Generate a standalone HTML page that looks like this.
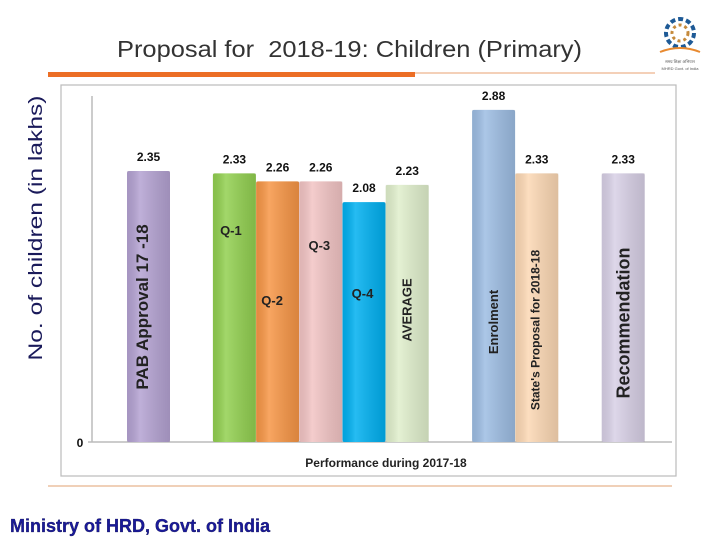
<!DOCTYPE html>
<html><head><meta charset="utf-8"><style>
body{margin:0;width:720px;height:540px;background:#fff;overflow:hidden;position:relative;font-family:"Liberation Sans",sans-serif}
</style></head><body>
<svg id="chart" width="720" height="540" xmlns="http://www.w3.org/2000/svg" style="position:absolute;left:0;top:0">
<defs>
<linearGradient id="sh" x1="0" x2="1" y1="0" y2="0">
<stop offset="0" stop-color="#000" stop-opacity="0.08"/><stop offset="0.3" stop-color="#fff" stop-opacity="0.15"/><stop offset="1" stop-color="#000" stop-opacity="0.12"/>
</linearGradient>
</defs>
<text x="117" y="57" font-size="23" fill="#333" textLength="465" lengthAdjust="spacingAndGlyphs" xml:space="preserve">Proposal for  2018-19: Children (Primary)</text>
<rect x="48" y="72" width="367" height="5" fill="#ec6e25"/>
<line x1="415" y1="73" x2="655" y2="73" stroke="#e8a070" stroke-width="1"/>
<g>
<circle cx="680" cy="33" r="14" fill="none" stroke="#1e5a96" stroke-width="4" stroke-dasharray="5 3"/>
<circle cx="680" cy="33" r="8" fill="none" stroke="#c58a3c" stroke-width="3" stroke-dasharray="3 3"/>
<path d="M660 52 Q680 44 700 52" stroke="#e88a30" stroke-width="2" fill="none"/>
<text x="680" y="63" font-size="4" text-anchor="middle" fill="#555">समग्र शिक्षा अभियान</text>
<text x="680" y="70" font-size="4" text-anchor="middle" fill="#555">MHRD Govt. of India</text>
</g>
<text transform="translate(42,228) rotate(-90)" text-anchor="middle" font-size="19" fill="#1a1a5a" textLength="265" lengthAdjust="spacingAndGlyphs">No. of children (in lakhs)</text>
<rect x="61" y="85" width="615" height="391" fill="#fff" stroke="#bbb" stroke-width="1.2"/>
<line x1="92" y1="96" x2="92" y2="442" stroke="#bbb" stroke-width="1.5"/>
<line x1="88" y1="442" x2="672" y2="442" stroke="#bbb" stroke-width="1.5"/>
<text x="80" y="447" text-anchor="middle" font-size="12" font-weight="bold" fill="#111">0</text>
<text x="386" y="467" text-anchor="middle" font-size="12" font-weight="bold" fill="#222">Performance during 2017-18</text>
<g id="bars"></g>
<line x1="48" y1="486" x2="672" y2="486" stroke="#e0a070" stroke-width="1"/>
<text x="10" y="532" font-size="18" font-weight="bold" fill="#1a1a9a" stroke="#0a0a40" stroke-width="0.3" textLength="260" lengthAdjust="spacingAndGlyphs">Ministry of HRD, Govt. of India</text>
</svg>
<script>
const categories=["PAB Approval 17 -18","Q-1","Q-2","Q-3","Q-4","AVERAGE","Enrolment","State's Proposal for 2018-18","Recommendation"];
const values=[2.35,2.33,2.26,2.26,2.08,2.23,2.88,2.33,2.33];
const valueLabels=["2.35","2.33","2.26","2.26","2.08","2.23","2.88","2.33","2.33"];
const colors=["#b4a2d2","#92d050","#f79646","#f2c4c4","#00b0f0","#e0efcc","#9dbde3","#fcd8b4","#d8d0e6"];
const slots=[0,2,3,4,5,6,8,9,11];
const x0=127,slotW=43.2,barW=43,y0=442,pxPerUnit=115.3;
const xScale=i=>x0+slots[i]*slotW-(slots[i]>=2?0.5:0);
const yScale=v=>y0-v*pxPerUnit;
const g=document.getElementById('bars');const NS="http://www.w3.org/2000/svg";
const inner=[
 {dx:21,txt:"PAB Approval 17 -18",rot:1,yMid:307,size:17},
 {dx:18,txt:"Q-1",yAbs:235,size:13},
 {dx:16,txt:"Q-2",yAbs:305,size:13},
 {dx:20,txt:"Q-3",yAbs:250,size:13},
 {dx:20,txt:"Q-4",yAbs:298,size:13},
 {dx:26,txt:"AVERAGE",rot:1,yMid:310,size:13},
 {dx:26,txt:"Enrolment",rot:1,yMid:322,size:13},
 {dx:24,txt:"State's Proposal for 2018-18",rot:1,yMid:330,size:12},
 {dx:28,txt:"Recommendation",rot:1,yMid:323,size:18}
];
const innerNames=["pab","q1","q2","q3","q4","average","enrolment","state-proposal","recommendation"];
values.forEach((v,i)=>{
 const x=xScale(i),y=yScale(v);
 const r=document.createElementNS(NS,'rect');
 r.setAttribute('x',x);r.setAttribute('y',y);r.setAttribute('width',barW);r.setAttribute('height',y0-y);
 r.setAttribute('fill',colors[i]);r.setAttribute('rx',2);
 
 
 g.appendChild(r);
 const s=document.createElementNS(NS,'rect');
 s.setAttribute('x',x);s.setAttribute('y',y);s.setAttribute('width',barW);s.setAttribute('height',y0-y);s.setAttribute('fill','url(#sh)');
 
 
 g.appendChild(s);
 const t=document.createElementNS(NS,'text');
 t.setAttribute('x',x+barW/2);t.setAttribute('y',y-10);t.setAttribute('text-anchor','middle');
 t.setAttribute('font-size','12');t.setAttribute('font-weight','bold');t.setAttribute('fill','#111');
 t.textContent=valueLabels[i];
 
 
 g.appendChild(t);
 const c=inner[i];const lt=document.createElementNS(NS,'text');
 lt.setAttribute('font-size',c.size);lt.setAttribute('font-weight','bold');lt.setAttribute('fill','#222');
 if(c.rot){const cx=x+c.dx,cy=c.yMid;lt.setAttribute('text-anchor','middle');lt.setAttribute('transform','translate('+cx+','+cy+') rotate(-90)');}
 else{lt.setAttribute('x',x+c.dx);lt.setAttribute('y',c.yAbs);lt.setAttribute('text-anchor','middle');}
 lt.textContent=categories[i];
 
 
 g.appendChild(lt);
});
</script>
</body></html>
